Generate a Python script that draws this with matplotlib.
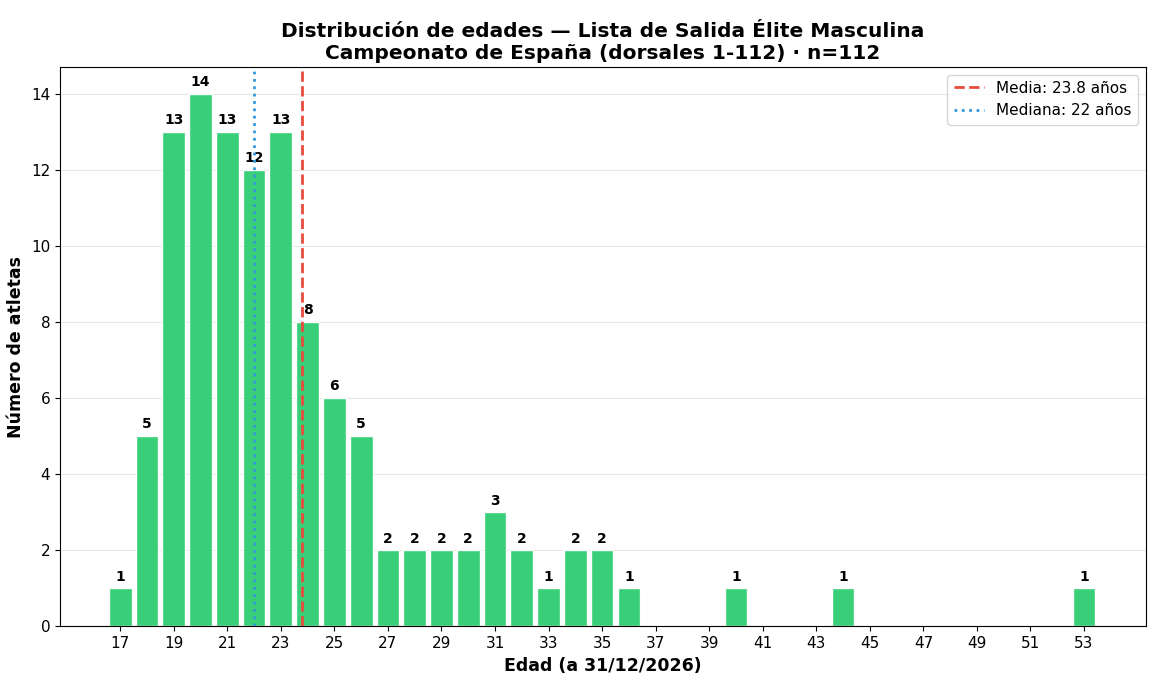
import matplotlib.pyplot as plt
import numpy as np

# Age counts
edades = {17: 1, 18: 5, 19: 13, 20: 14, 21: 13, 22: 12, 23: 13, 24: 8, 25: 6,
          26: 5, 27: 2, 28: 2, 29: 2, 30: 2, 31: 3, 32: 2, 33: 1, 34: 2, 35: 2,
          36: 1, 40: 1, 44: 1, 53: 1}
x = list(edades.keys())
y = list(edades.values())

fig, ax = plt.subplots(figsize=(11.75, 6.77), dpi=100)
bars = ax.bar(x, y, width=0.85, color='#2ecc71', alpha=0.95, edgecolor='white', zorder=2)
for xi, yi in zip(x, y):
    ax.text(xi, yi + 0.12, str(yi), ha='center', va='bottom', fontsize=10, fontweight='bold')

ax.axvline(23.8, color='#e74c3c', linestyle='--', linewidth=2, label='Media: 23.8 años', zorder=3)
ax.axvline(22, color='#3498db', linestyle=':', linewidth=2, label='Mediana: 22 años', zorder=3)

ax.set_title("Distribución de edades — Lista de Salida Élite Masculina\n"
             "Campeonato de España (dorsales 1-112) · n=112", fontsize=14.5, fontweight='bold')
ax.set_xlabel("Edad (a 31/12/2026)", fontsize=12.5, fontweight='bold')
ax.set_ylabel("Número de atletas", fontsize=12.5, fontweight='bold')
ax.set_xticks(np.arange(17, 54, 2))
ax.set_xlim(14.75, 55.3)
ax.set_ylim(0, 14.7)
ax.tick_params(labelsize=11)
ax.grid(axis='y', alpha=0.3, zorder=0)
ax.legend(fontsize=11, loc='upper right')

plt.subplots_adjust(left=0.051, right=0.975, top=0.901, bottom=0.075)
plt.savefig("out.png")
